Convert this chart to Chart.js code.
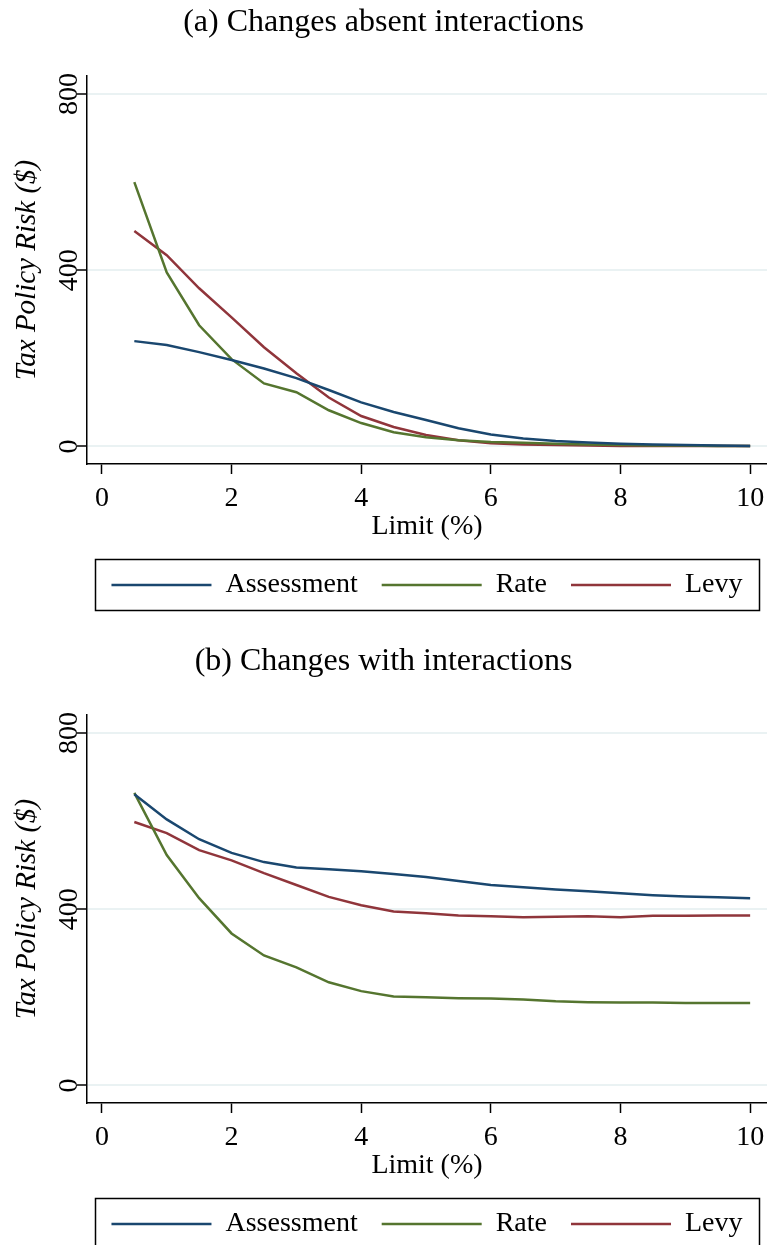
<!DOCTYPE html>
<html>
<head>
<meta charset="utf-8">
<script src="https://cdn.jsdelivr.net/npm/chart.js@4.4.1/dist/chart.umd.min.js"></script>
<style>
  html, body { margin: 0; padding: 0; background: #fff; overflow: hidden; height: 1245px; }
  .panel { width: 767px; height: 639px; }
  canvas { display: block; }
</style>
</head>
<body>
<div class="panel"><canvas id="chartA" width="767" height="639"></canvas></div>
<div class="panel"><canvas id="chartB" width="767" height="639"></canvas></div>
<script>
// limit (%) on the x axis
const limits = [0.5, 1, 1.5, 2, 2.5, 3, 3.5, 4, 4.5, 5, 5.5, 6, 6.5, 7, 7.5, 8, 8.5, 9, 9.5, 10];

// (a) changes absent interactions
const assessmentA = [239, 230, 214, 196, 177, 155, 128, 100, 78, 60, 41, 27, 18, 12, 9, 6, 4, 3, 2, 1];
const rateA = [600, 395, 275, 198, 143, 123, 82, 53, 32, 21, 14, 10, 8, 6, 4, 3, 2, 2, 1, 1];
const levyA = [489, 434, 359, 293, 225, 166, 111, 69, 44, 26, 14, 7, 4, 3, 2, 1, 1, 1, 1, 1];

// (b) changes with interactions
const assessmentB = [661, 604, 559, 528, 507, 495, 491, 486, 480, 473, 464, 455, 450, 445, 441, 436, 432, 429, 427, 425];
const rateB = [664, 523, 425, 345, 295, 268, 234, 214, 202, 200, 198, 197, 195, 191, 189, 188, 188, 187, 187, 187];
const levyB = [598, 573, 534, 511, 482, 455, 428, 409, 395, 391, 386, 384, 382, 383, 384, 382, 385, 385, 386, 386];

const xTicks = [0, 2, 4, 6, 8, 10];
const yTicks = [0, 400, 800];

const seriesNames = ['Assessment', 'Rate', 'Levy'];
const seriesColors = ['#1a476f', '#55752f', '#90353b'];

const serif = "'Liberation Serif', 'Times New Roman', serif";
const legendPad = 24;

// box around the legend, like Stata draws it
const legendBorder = {
  id: 'legendBorder',
  afterDraw(chart) {
    const lg = chart.legend;
    if (!lg) return;
    const ctx = chart.ctx;
    const mid = lg.top + legendPad + 14;
    ctx.save();
    ctx.strokeStyle = '#000';
    ctx.lineWidth = 1.5;
    ctx.strokeRect(lg.left + 8.5, mid - 25.5, lg.width - 16, 51);
    ctx.restore();
  }
};

function makeChart(id, title, series) {
  const datasets = series.map((vals, i) => ({
    label: seriesNames[i],
    data: vals.map((v, j) => ({ x: limits[j], y: v })),
    borderColor: seriesColors[i],
    backgroundColor: seriesColors[i],
    borderWidth: 2.5,
    pointRadius: 0,
    tension: 0
  }));

  return new Chart(document.getElementById(id), {
    type: 'line',
    data: { datasets },
    plugins: [legendBorder],
    options: {
      responsive: false,
      animation: false,
      layout: { padding: { top: 0, bottom: 30, left: 0, right: 0 } },
      plugins: {
        title: {
          display: true,
          text: title,
          color: '#000',
          font: { family: serif, size: 32, weight: 'normal', lineHeight: 1.2 },
          padding: { top: 3, bottom: 34.6 }
        },
        legend: {
          position: 'bottom',
          fullSize: false,
          labels: {
            color: '#000',
            font: { family: serif, size: 28 },
            usePointStyle: true,
            pointStyle: 'line',
            pointStyleWidth: 100,
            padding: legendPad
          }
        },
        tooltip: { enabled: false }
      },
      scales: {
        x: {
          type: 'linear',
          min: -0.23,
          max: 10.26,
          afterBuildTicks: (s) => { s.ticks = xTicks.map(v => ({ value: v })); },
          afterFit: (s) => { s.paddingLeft = 0; s.paddingRight = 0; },
          grid: { drawOnChartArea: false, tickLength: 10, tickColor: '#000', tickWidth: 1.5 },
          border: { color: '#000', width: 1.5 },
          ticks: {
            color: '#000',
            font: { family: serif, size: 28, lineHeight: 1 },
            padding: 11,
            maxRotation: 0
          },
          title: {
            display: true,
            text: 'Limit (%)',
            color: '#000',
            font: { family: serif, size: 28, lineHeight: 1 },
            padding: { top: -11, bottom: 6 }
          }
        },
        y: {
          min: -40,
          max: 841,
          afterBuildTicks: (s) => { s.ticks = yTicks.map(v => ({ value: v })); },
          afterFit: (s) => { s.width = 87; },
          grid: { color: '#eaf2f3', lineWidth: 2, tickLength: 10, tickColor: '#000', tickWidth: 1.5 },
          border: { color: '#000', width: 1.5 },
          ticks: {
            color: '#000',
            font: { family: serif, size: 28, lineHeight: 1 },
            minRotation: 90,
            maxRotation: 90,
            crossAlign: 'center',
            padding: -14
          },
          title: {
            display: true,
            text: 'Tax Policy Risk ($)',
            color: '#000',
            font: { family: serif, size: 29, style: 'italic', lineHeight: 1.2 },
            padding: { top: 10, bottom: 0 }
          }
        }
      }
    }
  });
}

makeChart('chartA', '(a) Changes absent interactions', [assessmentA, rateA, levyA]);
makeChart('chartB', '(b) Changes with interactions', [assessmentB, rateB, levyB]);
</script>
</body>
</html>
